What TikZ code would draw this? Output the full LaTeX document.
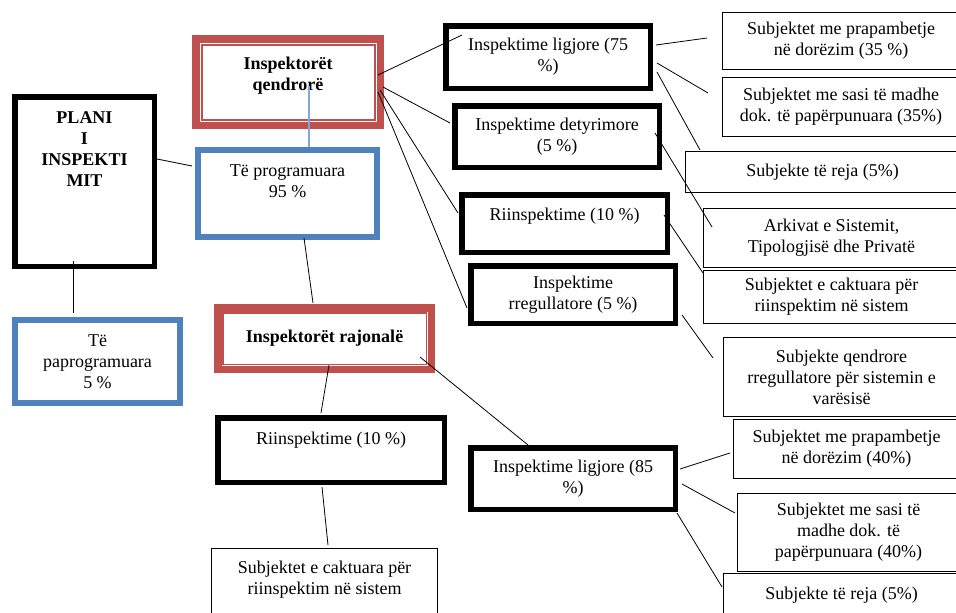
\documentclass[tikz,border=0pt]{standalone}
\usepackage{fontspec}
\setmainfont{Liberation Serif}
\usepackage{xcolor}
\usepackage{tikz}
\usetikzlibrary{calc, positioning}

\definecolor{kuqe}{RGB}{192,80,77}
\definecolor{blu}{RGB}{79,129,189}
\definecolor{blucel}{RGB}{125,170,220}

\begin{document}
\begin{tikzpicture}[x=1pt, y=-1pt,
    tekst/.style={font=\fontsize{18}{21}\selectfont, align=center, inner sep=0pt},
    tekstb/.style={tekst, font=\fontsize{18}{21}\selectfont\bfseries},
    kutiz/.style={draw=black, line width=5.5pt, anchor=north west, tekst},
    kutih/.style={draw=black, line width=1.2pt, anchor=north west, tekst},
    kutik/.style={draw=kuqe, line width=7.5pt, anchor=north west, tekstb},
    kutib/.style={draw=blu, line width=6pt, anchor=north west, tekst},
    lidh/.style={draw=black, line width=0.8pt}]
    \useasboundingbox (0,0) rectangle (956,613);

    % --- Kolona majtas: plani dhe ndarja ---
    \node[kutiz, minimum width=139.5pt, minimum height=169.5pt] (plan) at (12,94) {};
    \node[tekstb, below=17pt of plan.north] (plan-t) {PLANI\\I\\INSPEKTI\\MIT};
    \node[kutib, minimum width=165pt, minimum height=83pt] (paprog) at (12,317) {T\"e\\paprogramuara\\5 \%};

    % --- Inspektoret qendrore dhe rajonale ---
    \node[kutik, minimum width=184.5pt, minimum height=86.5pt] (qend) at (192,35) {};
    \node[tekstb, below=22pt of qend.north] (qend-t) {Inspektor\"et\\qendror\"e};
    \node[kutib, minimum width=179pt, minimum height=87pt] (prog) at (195,147) {};
    \node[tekst, below=18pt of prog.north] (prog-t) {T\"e programuara\\95 \%};
    \node[kutik, minimum width=213.5pt, minimum height=61.5pt] (raj) at (214,304) {Inspektor\"et rajonal\"e};
    \node[kutiz, minimum width=226.5pt, minimum height=64.5pt] (rii2) at (215,415) {};
    \node[tekst, below=17pt of rii2.north] (rii2-t) {Riinspektime (10 \%)};
    \node[kutih, minimum width=225.8pt, minimum height=90.8pt] (s10) at (211,548) {};
    \node[tekst, below=13pt of s10.north] (s10-t) {Subjektet e caktuara p\"er\\riinspektim n\"e sistem};

    % vijat e brendshme te kutive te kuqe
    \draw[kuqe, line width=1.2pt] ([shift={(10,10)}]qend.north west) rectangle ([shift={(-9,-9)}]qend.south east);
    \draw[kuqe, line width=1.2pt] ([shift={(9,9)}]raj.north west) rectangle ([shift={(-8.5,-8.5)}]raj.south east);

    % --- Llojet e inspektimeve ---
    \node[kutiz, minimum width=204.5pt, minimum height=62.5pt] (lig75) at (443,23) {Inspektime ligjore (75\\\%)};
    \node[kutiz, minimum width=204.5pt, minimum height=61.5pt] (dety) at (452,103) {Inspektime detyrimore\\(5 \%)};
    \node[kutiz, minimum width=205.5pt, minimum height=57.5pt] (rii1) at (459,192) {};
    \node[tekst, below=16pt of rii1.north] (rii1-t) {Riinspektime (10 \%)};
    \node[kutiz, minimum width=204.5pt, minimum height=57.5pt] (rreg) at (468,263) {Inspektime\\rregullatore (5 \%)};
    \node[kutiz, minimum width=204.5pt, minimum height=61.5pt] (lig85) at (468,445) {Inspektime ligjore (85\\\%)};

    % --- Subjektet ---
    \node[kutih, minimum width=236.8pt, minimum height=56.8pt] (s1) at (722,12) {Subjektet me prapambetje\\n\"e dor\"ezim (35 \%)};
    \node[kutih, minimum width=236.8pt, minimum height=58.8pt] (s2) at (722,77) {Subjektet me sasi t\"e madhe\\dok. t\"e pap\"erpunuara (35\%)};
    \node[kutih, minimum width=273.8pt, minimum height=40.8pt] (s3) at (685,151) {Subjekte t\"e reja (5\%)};
    \node[kutih, minimum width=255.8pt, minimum height=58.8pt] (s4) at (703,208) {Arkivat e Sistemit,\\Tipologjis\"e dhe Privat\"e};
    \node[kutih, minimum width=255.8pt, minimum height=52.8pt] (s5) at (703,270) {Subjektet e caktuara p\"er\\riinspektim n\"e sistem};
    \node[kutih, minimum width=235.8pt, minimum height=78.8pt] (s6) at (723,337) {Subjekte qendrore\\rregullatore p\"er sistemin e\\var\"esis\"e};
    \node[kutih, minimum width=225.8pt, minimum height=58.8pt] (s7) at (733,419) {Subjektet me prapambetje\\n\"e dor\"ezim (40\%)};
    \node[kutih, minimum width=221.8pt, minimum height=77.8pt] (s8) at (737,493) {Subjektet me sasi t\"e\\madhe dok. t\"e\\pap\"erpunuara (40\%)};
    \node[kutih, minimum width=235.8pt, minimum height=65.8pt] (s9) at (723,573) {};
    \node[tekst, below=14pt of s9.north] (s9-t) {Subjekte t\"e reja (5\%)};

    % --- Lidhjet ---
    \draw[blucel, line width=1.5pt] ([shift={(117,51)}]qend.north west) -- ([shift={(114,0)}]prog.north west);
    \draw[lidh] ([shift={(145,65)}]plan.north west) -- ([shift={(-3,19)}]prog.north west);
    \draw[lidh] ([shift={(61,167)}]plan.north west) -- ([shift={(61,-4)}]paprog.north west);
    \draw[lidh] ([shift={(109,91)}]prog.north west) -- ([shift={(99,-1)}]raj.north west);
    \draw[lidh] ([shift={(115,61)}]raj.north west) -- ([shift={(106,-2)}]rii2.north west);
    \draw[lidh] ([shift={(107,72)}]rii2.north west) -- ([shift={(117,-3)}]s10.north west);
    \draw[lidh] ([shift={(206,53)}]raj.north west) -- ([shift={(60,0)}]lig85.north west);
    \draw[lidh] ([shift={(212,24)}]lig85.north west) -- ([shift={(-3,34)}]s7.north west);
    \draw[lidh] ([shift={(214,39)}]lig85.north west) -- ([shift={(-2,20)}]s8.north west);
    \draw[lidh] ([shift={(209,68)}]lig85.north west) -- ([shift={(-1,14)}]s9.north west);
    \draw[lidh] ([shift={(186,40)}]qend.north west) -- ([shift={(19,12)}]lig75.north west);
    \draw[lidh] ([shift={(191,52)}]qend.north west) -- ([shift={(-2,20)}]dety.north west);
    \draw[lidh] ([shift={(188,55)}]qend.north west) -- ([shift={(-1,21)}]rii1.north west);
    \draw[lidh] ([shift={(186,57)}]qend.north west) -- ([shift={(-1,45)}]rreg.north west);
    \draw[lidh] ([shift={(213,22)}]lig75.north west) -- ([shift={(-15,26)}]s1.north west);
    \draw[lidh] ([shift={(214,40)}]lig75.north west) -- ([shift={(-14,16)}]s2.north west);
    \draw[lidh] ([shift={(214,49)}]lig75.north west) -- ([shift={(15,-1)}]s3.north west);
    \draw[lidh] ([shift={(203,30)}]dety.north west) -- ([shift={(9,19)}]s4.north west);
    \draw[lidh] ([shift={(205,23)}]rii1.north west) -- ([shift={(0,3)}]s5.north west);
    \draw[lidh] ([shift={(214,52)}]rreg.north west) -- ([shift={(-10,21)}]s6.north west);
\end{tikzpicture}
\end{document}
